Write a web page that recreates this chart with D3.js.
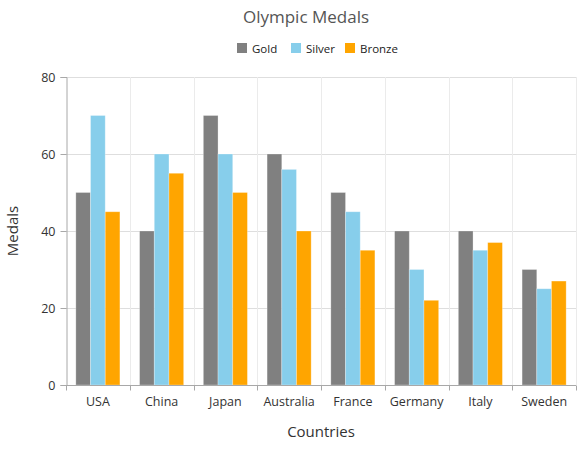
<!DOCTYPE html>
<html>
<head>
<meta charset="utf-8">
<script src="https://cdn.jsdelivr.net/npm/d3@7"></script>
<style>
  body { margin: 0; background: #fff; }
  text { font-family: "Open Sans", "Noto Sans", sans-serif; }
</style>
</head>
<body>
<svg id="chart" width="584" height="456"></svg>
<script>
var countries = ["USA", "China", "Japan", "Australia", "France", "Germany", "Italy", "Sweden"];
var seriesNames = ["Gold", "Silver", "Bronze"];
var gold = [50, 40, 70, 60, 50, 40, 40, 30];
var silver = [70, 60, 60, 56, 45, 30, 35, 25];
var bronze = [45, 55, 50, 40, 35, 22, 37, 27];
var yTicks = [0, 20, 40, 60, 80];
var colors = ["#808080", "#87ceeb", "#ffa500"];

(function() {
var seriesValues = [gold, silver, bronze];
var svg = d3.select("#chart");
var left = 66, right = 576, plotTop = 77, bottom = 385;

var x = d3.scaleBand().domain(countries).range([left, right]).paddingInner(0).paddingOuter(0);
var inner = d3.scaleBand().domain(seriesNames).range([0, x.bandwidth()]).paddingInner(0).paddingOuter(0.67);
var y = d3.scaleLinear().domain([0, 80]).range([bottom, plotTop]);

// horizontal grid
svg.append("g").selectAll("line").data(yTicks.slice(1)).enter().append("line")
	.attr("x1", left).attr("x2", right)
	.attr("y1", function(d){ return Math.round(y(d)) + 0.5; })
	.attr("y2", function(d){ return Math.round(y(d)) + 0.5; })
	.attr("stroke", "#dedede");

// vertical category separators
svg.append("g").selectAll("line").data(countries).enter().append("line")
	.attr("x1", function(d, i){ return Math.round(left + x.bandwidth() * (i + 1)) + 0.5; })
	.attr("x2", function(d, i){ return Math.round(left + x.bandwidth() * (i + 1)) + 0.5; })
	.attr("y1", plotTop).attr("y2", bottom)
	.attr("stroke", "#ebebeb");

// bars
var groups = svg.append("g").selectAll("g").data(countries).enter().append("g")
	.attr("transform", function(d){ return "translate(" + x(d) + ",0)"; });
groups.selectAll("rect")
	.data(function(d, i){ return seriesNames.map(function(s, k){ return { s: s, v: seriesValues[k][i], k: k }; }); })
	.enter().append("rect")
	.attr("x", function(d){ return inner(d.s); })
	.attr("width", inner.bandwidth())
	.attr("y", function(d){ return y(d.v); })
	.attr("height", function(d){ return bottom - y(d.v); })
	.attr("fill", function(d){ return colors[d.k]; })
	.attr("stroke", "#ffffff").attr("stroke-opacity", 0.35).attr("stroke-width", 0.8);

// y axis
var yAxis = svg.append("g").attr("transform", "translate(" + (left + 0.5) + ",0)")
	.call(d3.axisLeft(y).tickValues(yTicks).tickSize(6).tickPadding(5));
yAxis.select(".domain").attr("stroke", "#a8a8a8");
yAxis.selectAll(".tick line").attr("stroke", "#a8a8a8");
yAxis.selectAll(".tick text").attr("fill", "#333").style("font-size", "12.5px")
	.style("font-family", "'Open Sans', sans-serif");

// x axis
var xAxisG = svg.append("g").attr("transform", "translate(0," + (bottom + 0.5) + ")");
xAxisG.append("line").attr("x1", left).attr("x2", right).attr("stroke", "#a8a8a8");
xAxisG.selectAll(".sep").data(countries.concat(["end"])).enter().append("line")
	.attr("x1", function(d, i){ return Math.round(left + x.bandwidth() * i) + 0.5; })
	.attr("x2", function(d, i){ return Math.round(left + x.bandwidth() * i) + 0.5; })
	.attr("y1", 0).attr("y2", 5)
	.attr("stroke", "#a8a8a8");
xAxisG.selectAll(".lbl").data(countries).enter().append("text")
	.attr("x", function(d){ return x(d) + x.bandwidth() / 2; })
	.attr("y", 20.5)
	.attr("text-anchor", "middle")
	.attr("fill", "#333")
	.style("font-size", "12.5px")
	.text(function(d){ return d; });

// axis titles
svg.append("text").attr("x", (left + right) / 2).attr("y", 437)
	.attr("text-anchor", "middle").attr("fill", "#333").style("font-size", "15px").text("Countries");
svg.append("text").attr("transform", "translate(18," + ((plotTop + bottom) / 2) + ") rotate(-90)")
	.attr("text-anchor", "middle").attr("fill", "#333").style("font-size", "15px").text("Medals");

// title
svg.append("text").attr("x", 306).attr("y", 23)
	.attr("text-anchor", "middle").attr("fill", "#555").style("font-size", "17px").text("Olympic Medals");

// legend
var legendX = [237, 291, 345];
var legend = svg.append("g").selectAll("g").data(seriesNames).enter().append("g")
	.attr("transform", function(d, i){ return "translate(" + legendX[i] + ",43)"; });
legend.append("rect").attr("width", 10).attr("height", 10)
	.attr("fill", function(d, i){ return colors[i]; });
legend.append("text").attr("x", 15).attr("y", 9.5)
	.attr("fill", "#222").style("font-size", "11.5px").text(function(d){ return d; });
})();
</script>
</body>
</html>
